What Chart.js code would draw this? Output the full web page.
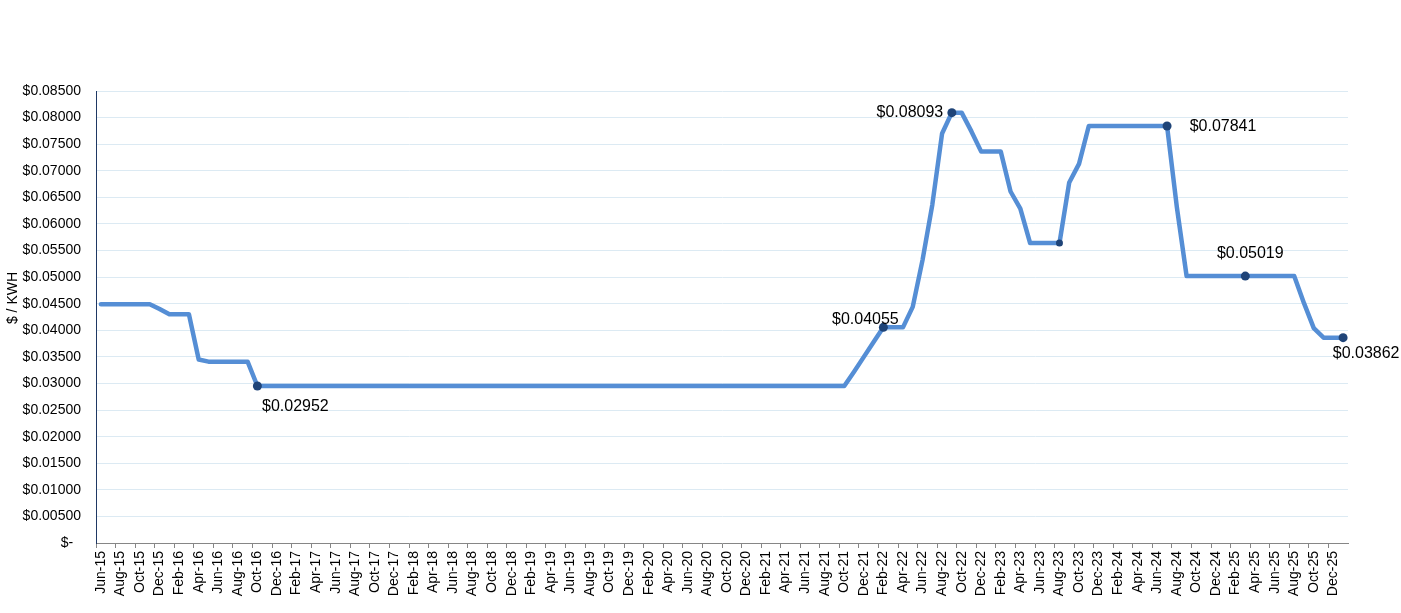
<!DOCTYPE html>
<html>
<head>
<meta charset="utf-8">
<script src="https://cdn.jsdelivr.net/npm/chart.js@4/dist/chart.umd.min.js"></script>
<style>
  body { margin: 0; background: #fff; }
  #wrap { width: 1401px; height: 613px; position: relative; }
</style>
</head>
<body>
<div id="wrap"><canvas id="priceChart"></canvas></div>
<script>
// Mois (un point par mois, Jun-15 -> Jan-26)
const months = [
    "Jun-15", "Jul-15", "Aug-15", "Sep-15", "Oct-15", "Nov-15", "Dec-15",
    "Jan-16", "Feb-16", "Mar-16", "Apr-16", "May-16", "Jun-16", "Jul-16", "Aug-16", "Sep-16", "Oct-16", "Nov-16", "Dec-16",
    "Jan-17", "Feb-17", "Mar-17", "Apr-17", "May-17", "Jun-17", "Jul-17", "Aug-17", "Sep-17", "Oct-17", "Nov-17", "Dec-17",
    "Jan-18", "Feb-18", "Mar-18", "Apr-18", "May-18", "Jun-18", "Jul-18", "Aug-18", "Sep-18", "Oct-18", "Nov-18", "Dec-18",
    "Jan-19", "Feb-19", "Mar-19", "Apr-19", "May-19", "Jun-19", "Jul-19", "Aug-19", "Sep-19", "Oct-19", "Nov-19", "Dec-19",
    "Jan-20", "Feb-20", "Mar-20", "Apr-20", "May-20", "Jun-20", "Jul-20", "Aug-20", "Sep-20", "Oct-20", "Nov-20", "Dec-20",
    "Jan-21", "Feb-21", "Mar-21", "Apr-21", "May-21", "Jun-21", "Jul-21", "Aug-21", "Sep-21", "Oct-21", "Nov-21", "Dec-21",
    "Jan-22", "Feb-22", "Mar-22", "Apr-22", "May-22", "Jun-22", "Jul-22", "Aug-22", "Sep-22", "Oct-22", "Nov-22", "Dec-22",
    "Jan-23", "Feb-23", "Mar-23", "Apr-23", "May-23", "Jun-23", "Jul-23", "Aug-23", "Sep-23", "Oct-23", "Nov-23", "Dec-23",
    "Jan-24", "Feb-24", "Mar-24", "Apr-24", "May-24", "Jun-24", "Jul-24", "Aug-24", "Sep-24", "Oct-24", "Nov-24", "Dec-24",
    "Jan-25", "Feb-25", "Mar-25", "Apr-25", "May-25", "Jun-25", "Jul-25", "Aug-25", "Sep-25", "Oct-25", "Nov-25", "Dec-25",
    "Jan-26"
];

// Prix en $ / KWH, même ordre que months
const prices = [
    0.0449, 0.0449, 0.0449, 0.0449, 0.0449, 0.0449, 0.0440,
    0.0430, 0.0430, 0.0430, 0.0345, 0.0341, 0.0341, 0.0341, 0.0341, 0.0341, 0.02952, 0.02952, 0.02952,
    0.02952, 0.02952, 0.02952, 0.02952, 0.02952, 0.02952, 0.02952, 0.02952, 0.02952, 0.02952, 0.02952, 0.02952,
    0.02952, 0.02952, 0.02952, 0.02952, 0.02952, 0.02952, 0.02952, 0.02952, 0.02952, 0.02952, 0.02952, 0.02952,
    0.02952, 0.02952, 0.02952, 0.02952, 0.02952, 0.02952, 0.02952, 0.02952, 0.02952, 0.02952, 0.02952, 0.02952,
    0.02952, 0.02952, 0.02952, 0.02952, 0.02952, 0.02952, 0.02952, 0.02952, 0.02952, 0.02952, 0.02952, 0.02952,
    0.02952, 0.02952, 0.02952, 0.02952, 0.02952, 0.02952, 0.02952, 0.02952, 0.02952, 0.02952, 0.0322, 0.0350,
    0.0378, 0.04055, 0.04055, 0.04055, 0.0444, 0.0532, 0.0636, 0.0770, 0.08093, 0.08093, 0.0774, 0.0736,
    0.0736, 0.0736, 0.0661, 0.0629, 0.0564, 0.0564, 0.0564, 0.0564, 0.0678, 0.0713, 0.07841, 0.07841,
    0.07841, 0.07841, 0.07841, 0.07841, 0.07841, 0.07841, 0.07841, 0.0632, 0.05019, 0.05019, 0.05019, 0.05019,
    0.05019, 0.05019, 0.05019, 0.05019, 0.05019, 0.05019, 0.05019, 0.05019, 0.0451, 0.0404, 0.03862, 0.03862,
    0.03862
];

// Points marqués (avec étiquette) et point marqué sans étiquette
const labeledPoints = ["Oct-16", "Feb-22", "Sep-22", "Jul-24", "Mar-25", "Jan-26"];
const plainPoints = ["Aug-23"];

// Graduations de l'axe Y
const yMin = 0;
const yMax = 0.085;
const yStep = 0.005;

// Décalage des étiquettes par rapport au point (style)
const labelOffsets = {
    "Oct-16": [38, 21],
    "Feb-22": [-18, -8],
    "Sep-22": [-42, 0],
    "Jul-24": [56, 1],
    "Mar-25": [5, -23],
    "Jan-26": [23, 16]
};

const FONT = "'Liberation Sans', Arial, sans-serif";
const LINE_BLUE = "#558ED5";
const DOT_BLUE = "#1F4478";

function pointSize(ctx) {
    const m = months[ctx.dataIndex];
    if (labeledPoints.includes(m)) return 4.5;
    if (plainPoints.includes(m)) return 3.5;
    return 0;
}

// Étiquettes de données + titre de l'axe Y
const annotate = {
    id: 'annotate',
    afterDatasetsDraw(chart) {
        const c = chart.ctx;
        const meta = chart.getDatasetMeta(0);
        c.save();
        c.fillStyle = '#000';
        c.font = '16px ' + FONT;
        c.textAlign = 'center';
        c.textBaseline = 'middle';
        labeledPoints.forEach(m => {
            const i = months.indexOf(m);
            const pt = meta.data[i];
            const off = labelOffsets[m];
            c.fillText('$' + prices[i].toFixed(5), pt.x + off[0], pt.y + off[1]);
        });
        c.font = '14px ' + FONT;
        c.translate(13, 298);
        c.rotate(-Math.PI / 2);
        c.fillText('$ / KWH', 0, 0);
        c.restore();
    }
};

const ctx = document.getElementById('priceChart').getContext('2d');
const priceChart = new Chart(ctx, {
    type: 'line',
    data: {
        labels: months,
        datasets: [{
            data: prices,
            borderColor: LINE_BLUE,
            borderWidth: 4.5,
            borderJoinStyle: 'round',
            borderCapStyle: 'round',
            tension: 0,
            fill: false,
            pointRadius: pointSize,
            pointBackgroundColor: DOT_BLUE,
            pointBorderColor: DOT_BLUE,
            pointBorderWidth: 0,
            pointHoverRadius: pointSize
        }]
    },
    options: {
        responsive: true,
        maintainAspectRatio: false,
        animation: false,
        layout: { padding: { top: 91, right: 53, bottom: 0, left: 0 } },
        plugins: {
            legend: { display: false },
            tooltip: { enabled: false }
        },
        scales: {
            x: {
                offset: true,
                afterFit: scale => { scale.height = 70; },
                border: { color: '#868686', width: 1 },
                grid: {
                    offset: true,
                    drawOnChartArea: false,
                    drawTicks: true,
                    tickLength: 5,
                    color: c => (c.index % 2 === 0 ? '#868686' : 'rgba(0,0,0,0)'),
                    tickColor: c => (c.index % 2 === 0 ? '#868686' : 'rgba(0,0,0,0)')
                },
                ticks: {
                    autoSkip: false,
                    minRotation: 90,
                    maxRotation: 90,
                    padding: 3,
                    color: '#000',
                    font: { family: FONT, size: 14 },
                    callback: function (value, index) {
                        return index % 2 === 0 ? this.getLabelForValue(value) : '';
                    }
                }
            },
            y: {
                min: yMin,
                max: yMax,
                afterFit: scale => { scale.width = 96; },
                border: { color: '#1F3864', width: 1 },
                grid: {
                    color: '#DCEAF3',
                    lineWidth: 1,
                    drawTicks: false
                },
                ticks: {
                    stepSize: yStep,
                    padding: 15,
                    color: '#000',
                    font: { family: FONT, size: 14 },
                    callback: v => (Math.abs(v) < 1e-9 ? '$-  ' : '$' + v.toFixed(5))
                }
            }
        }
    },
    plugins: [annotate]
});
</script>
</body>
</html>
